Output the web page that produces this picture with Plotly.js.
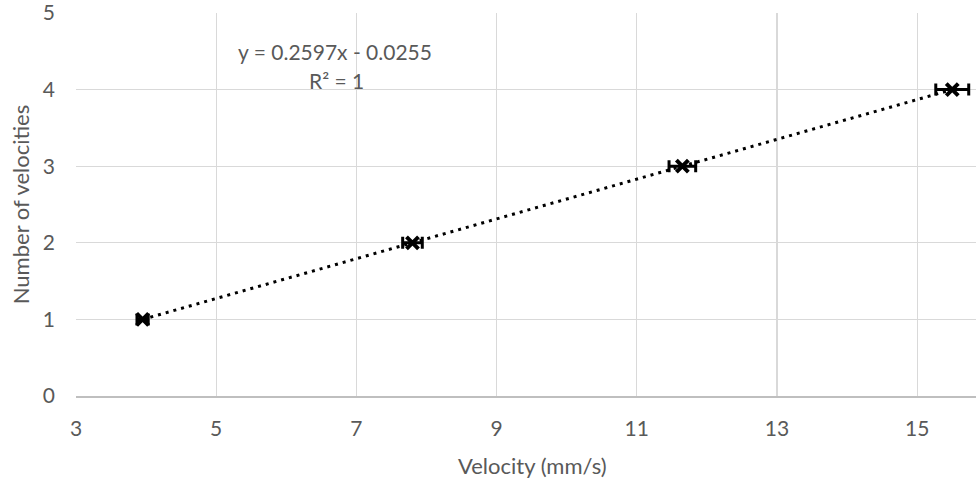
<!DOCTYPE html>
<html><head><meta charset="utf-8">
<script src="https://cdn.plot.ly/plotly-3.0.1.min.js"></script>
<style>html,body{margin:0;padding:0;background:#fff;}#chart{width:976px;height:481px;}</style>
</head><body><div id="chart"></div>
<script>
const velocity = [3.95, 7.80, 11.65, 15.50];
const counts = [1, 2, 3, 4];
const velocityErr = [0.08, 0.14, 0.19, 0.235];
const slope = 0.2597, intercept = -0.0255;
const trendX = [velocity[0], velocity[velocity.length-1]];
const trendY = trendX.map(x => slope*x + intercept);
const xTicks = [3,5,7,9,11,13,15];
const yTicks = [0,1,2,3,4,5];
const font = "Lato, 'Open Sans', sans-serif";
const txt = '#595959';
const L = 76, T = 12.5, W = 900, H = 383.5;
const xMax = 3 + W/70.1;
const traces = [
  {x: trendX, y: trendY, mode:'lines', line:{color:'#000', width:3, dash:'3px,5px'}, hoverinfo:'skip'},
  {x: velocity, y: counts, mode:'markers', marker:{symbol:'x-thin', size:12, line:{width:4, color:'#000'}, color:'#000'},
   error_x:{type:'data', array: velocityErr, visible:true, color:'#000', thickness:3, width:6}}
];
const layout = {
  width:976, height:481, showlegend:false,
  paper_bgcolor:'#fff', plot_bgcolor:'#fff',
  margin:{l:L, r:976-L-W, t:T, b:481-T-H},
  font:{family:font, color:txt, size:20},
  xaxis:{range:[3, xMax], tickvals:xTicks, ticktext:xTicks.map(String), showgrid:true, gridcolor:'#d9d9d9', gridwidth:1.3,
    zeroline:false, showline:true, linecolor:'#bfbfbf', linewidth:1.5, ticks:'', ticklen:0,
    tickfont:{size:21, color:txt}, ticklabelstandoff:13, ticklabeloverflow:'allow'},
  yaxis:{range:[0,5], tickvals:yTicks, ticktext:yTicks.map(String), showgrid:true, gridcolor:'#d9d9d9', gridwidth:1.3, zeroline:false, showline:false,
    ticks:'', tickfont:{size:21, color:txt}, ticklabelstandoff:20, ticklabeloverflow:'allow'},
  annotations:[
    {xref:'paper', yref:'paper', x:(236-L)/W, y:(T+H-51)/H, text:'y = 0.2597x - 0.0255', showarrow:false, xanchor:'left', yanchor:'middle', font:{size:21, color:txt}},
    {xref:'paper', yref:'paper', x:(307-L)/W, y:(T+H-80)/H, text:'R² = 1', showarrow:false, xanchor:'left', yanchor:'middle', font:{size:21, color:txt}},
    {xref:'paper', yref:'paper', x:(532-L)/W, y:(T+H-466)/H, text:'Velocity (mm/s)', showarrow:false, xanchor:'center', yanchor:'middle', font:{size:22, color:txt}},
    {xref:'paper', yref:'paper', x:(20-L)/W, y:(T+H-204)/H, text:'Number of velocities', textangle:-90, showarrow:false, xanchor:'center', yanchor:'middle', font:{size:22, color:txt}}
  ]
};
Plotly.newPlot('chart', traces, layout, {displayModeBar:false, staticPlot:true});
</script></body></html>
